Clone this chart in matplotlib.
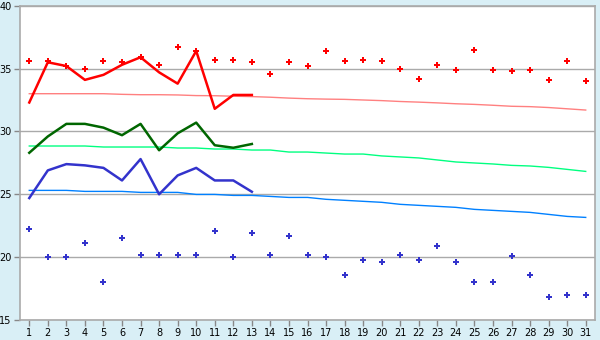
import matplotlib
matplotlib.use("Agg")
import matplotlib.pyplot as plt
import numpy as np

days = list(range(1, 32))

# daily max / min (markers)
max_temp = [35.6, 35.6, 35.2, 35.0, 35.6, 35.5, 35.9, 35.3, 36.7, 36.4,
            35.7, 35.7, 35.5, 34.6, 35.5, 35.2, 36.4, 35.6, 35.65, 35.6,
            35.0, 34.2, 35.3, 34.9, 36.5, 34.9, 34.8, 34.9, 34.1, 35.6, 34.0]
min_temp = [22.2, 20.0, 20.0, 21.1, 18.0, 21.5, 20.2, 20.2, 20.2, 20.2,
            22.05, 20.0, 21.9, 20.2, 21.7, 20.2, 20.0, 18.6, 19.8, 19.6,
            20.2, 19.8, 20.9, 19.6, 18.0, 18.0, 20.1, 18.6, 16.8, 17.0, 17.0]

# current-month lines (days 1-13)
line_days = list(range(1, 14))
hi_line = [32.3, 35.5, 35.2, 34.1, 34.5, 35.3, 35.9, 34.7, 33.8, 36.4, 31.8, 32.9, 32.9]
mid_line = [28.3, 29.6, 30.6, 30.6, 30.3, 29.7, 30.6, 28.5, 29.85, 30.7, 28.9, 28.7, 29.0]
lo_line = [24.7, 26.9, 27.4, 27.3, 27.1, 26.1, 27.8, 25.0, 26.5, 27.1, 26.1, 26.1, 25.2]

# normals
hi_norm = [33.0, 33.0, 33.0, 33.0, 33.0, 32.95, 32.92, 32.92, 32.9, 32.85,
           32.84, 32.8, 32.77, 32.72, 32.65, 32.6, 32.57, 32.55, 32.5, 32.45,
           32.38, 32.33, 32.27, 32.2, 32.15, 32.08, 32.0, 31.97, 31.9, 31.8, 31.7]
mid_norm = [28.84, 28.84, 28.84, 28.84, 28.76, 28.76, 28.76, 28.76, 28.68, 28.68,
            28.6, 28.6, 28.52, 28.52, 28.36, 28.36, 28.28, 28.2, 28.2, 28.05,
            27.97, 27.89, 27.73, 27.57, 27.49, 27.41, 27.3, 27.25, 27.14, 26.98, 26.82]
lo_norm = [25.31, 25.31, 25.31, 25.23, 25.23, 25.23, 25.15, 25.15, 25.15, 24.99,
           24.99, 24.91, 24.91, 24.83, 24.75, 24.75, 24.6, 24.52, 24.44, 24.36,
           24.2, 24.12, 24.04, 23.96, 23.8, 23.72, 23.64, 23.56, 23.4, 23.24, 23.16]

fig = plt.figure(figsize=(6, 3.4), dpi=100, facecolor="#d9eff6")
ax = fig.add_axes([20 / 600, 20 / 340, 575 / 600, 314.3 / 340])
ax.set_facecolor("white")

ax.plot(days, hi_norm, color="#ff8080", lw=1.0)
ax.plot(days, mid_norm, color="#00ff80", lw=1.0)
ax.plot(days, lo_norm, color="#0080ff", lw=1.0)

ax.plot(line_days, hi_line, color="#ff0000", lw=1.8)
ax.plot(line_days, mid_line, color="#006600", lw=1.8)
ax.plot(line_days, lo_line, color="#3333cc", lw=1.8)

ax.plot(days, max_temp, ls="none", marker="P", ms=4, color="#ff0000", mew=0)
ax.plot(days, min_temp, ls="none", marker="P", ms=4, color="#3333cc", mew=0)

ax.set_xlim(0.5, 31.5)
ax.set_ylim(15, 40)
ax.set_xticks(days)
ax.set_yticks([15, 20, 25, 30, 35, 40])
ax.yaxis.grid(True, color="#aaaaaa", lw=1)
ax.set_axisbelow(True)
for s in ax.spines.values():
    s.set_color("#aaaaaa")
    s.set_linewidth(1.2)
ax.tick_params(colors="#888888", labelcolor="black", labelsize=7, length=4, width=1, pad=2)

fig.savefig("out.png", dpi=100, facecolor=fig.get_facecolor())
